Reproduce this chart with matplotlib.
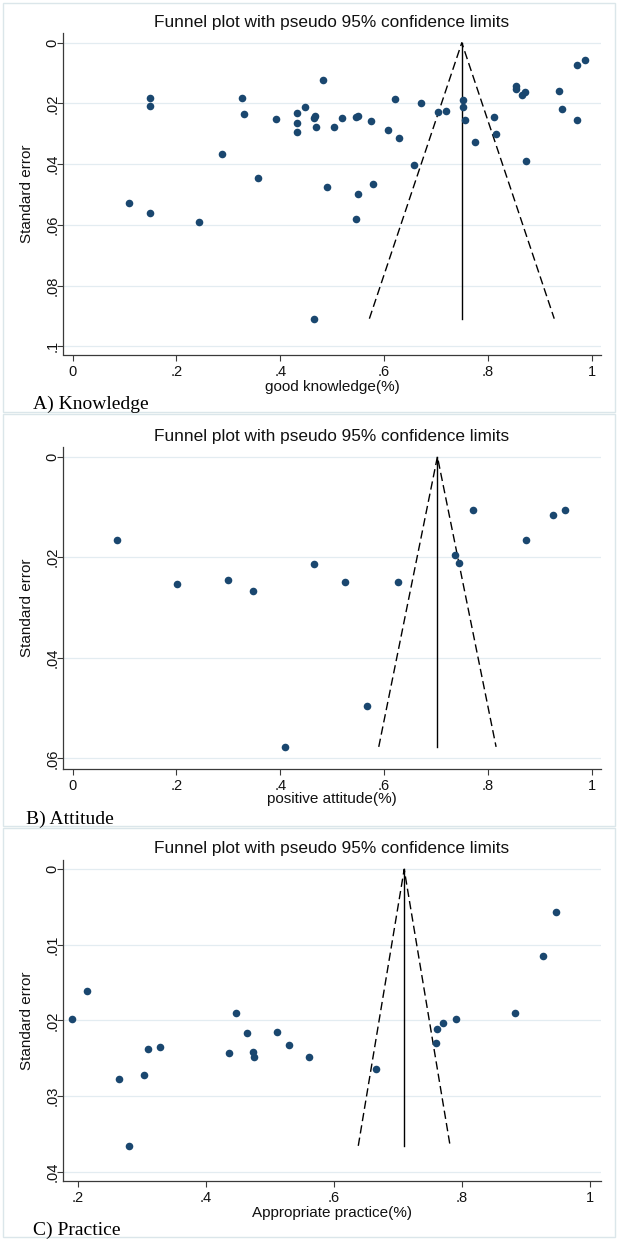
import matplotlib
matplotlib.use("Agg")
import matplotlib.pyplot as plt
from matplotlib.patches import Rectangle
from matplotlib.ticker import FuncFormatter

# ---------------- data ----------------
title_text = "Funnel plot with pseudo 95% confidence limits"
ylabel_text = "Standard error"

knowledge_x = [0.149, 0.149, 0.109, 0.149, 0.244, 0.287, 0.326, 0.331, 0.358, 0.392,
               0.433, 0.433, 0.432, 0.447, 0.467, 0.466, 0.468, 0.483, 0.490, 0.466,
               0.503, 0.520, 0.546, 0.550, 0.550, 0.546, 0.575, 0.579, 0.608, 0.629,
               0.621, 0.658, 0.672, 0.704, 0.720, 0.753, 0.753, 0.756, 0.775, 0.813,
               0.815, 0.855, 0.855, 0.866, 0.871, 0.874, 0.937, 0.943, 0.973, 0.972,
               0.987]
knowledge_se = [0.0183, 0.0210, 0.0527, 0.0562, 0.0591, 0.0368, 0.0183, 0.0235, 0.0447, 0.0250,
                0.0230, 0.0266, 0.0293, 0.0213, 0.0241, 0.0249, 0.0279, 0.0124, 0.0475, 0.0909,
                0.0276, 0.0248, 0.0246, 0.0242, 0.0497, 0.0582, 0.0257, 0.0464, 0.0289, 0.0315,
                0.0186, 0.0402, 0.0200, 0.0228, 0.0224, 0.0190, 0.0212, 0.0255, 0.0328, 0.0244,
                0.0302, 0.0142, 0.0152, 0.0171, 0.0161, 0.0389, 0.0159, 0.0219, 0.0255, 0.0072,
                0.0057]
knowledge_pooled = 0.750

attitude_x = [0.0845, 0.201, 0.299, 0.348, 0.466, 0.410, 0.524, 0.568, 0.6275, 0.737,
              0.745, 0.7725, 0.874, 0.925, 0.949]
attitude_se = [0.0165, 0.0253, 0.0246, 0.0268, 0.0214, 0.0577, 0.0249, 0.0496, 0.0250, 0.0195,
               0.0212, 0.0105, 0.0165, 0.0116, 0.0106]
attitude_pooled = 0.703

practice_x = [0.191, 0.214, 0.264, 0.303, 0.309, 0.328, 0.280, 0.4475, 0.465, 0.436,
              0.473, 0.476, 0.511, 0.530, 0.561, 0.666, 0.759, 0.761, 0.770, 0.791,
              0.8825, 0.927, 0.9465]
practice_se = [0.0198, 0.0161, 0.0277, 0.0272, 0.0238, 0.0235, 0.0366, 0.0190, 0.0217, 0.0243,
               0.0242, 0.0248, 0.0216, 0.0232, 0.0249, 0.0264, 0.0230, 0.0212, 0.0204, 0.0198,
               0.0190, 0.0115, 0.0056]
practice_pooled = 0.710

knowledge_xticks = [0, 0.2, 0.4, 0.6, 0.8, 1]
knowledge_yticks = [0, 0.02, 0.04, 0.06, 0.08, 0.1]
attitude_xticks = [0, 0.2, 0.4, 0.6, 0.8, 1]
attitude_yticks = [0, 0.02, 0.04, 0.06]
practice_xticks = [0.2, 0.4, 0.6, 0.8, 1]
practice_yticks = [0, 0.01, 0.02, 0.03, 0.04]

xlabels = ["good knowledge(%)", "positive attitude(%)", "Appropriate practice(%)"]
captions = ["A) Knowledge", "B) Attitude", "C) Practice"]

# ---------------- style ----------------
W, H = 618, 1239
NAVY = "#1a476f"
GRID = "#e3ecf1"
AXC = "#3a3a3a"
FRAME = "#dbe6ea"
SANS = ["Liberation Sans", "DejaVu Sans"]
SERIF = ["Liberation Serif", "DejaVu Serif"]
plt.rcParams["lines.scale_dashes"] = False

fig = plt.figure(figsize=(W / 100, H / 100), dpi=100)
fig.patch.set_facecolor("white")


def fy(py):
    return 1 - py / H


def fx(px):
    return px / W


def stata_fmt(v, pos=None):
    v = round(v, 6)
    if v == 0:
        return "0"
    s = f"{v:g}"
    if s.startswith("0."):
        s = s[1:]
    return s


panels = [
    dict(x=knowledge_x, se=knowledge_se, pooled=knowledge_pooled,
         xt=knowledge_xticks, yt=knowledge_yticks,
         box=(63, 33.3, 601, 354.5), xlim=(-0.0187, 1.0183), ylim=(0.1027, -0.0031),
         title_y=22.7, xlabel_y=387.5, cap=(33, 404), frame=(3, 3, 615, 411.5)),
    dict(x=attitude_x, se=attitude_se, pooled=attitude_pooled,
         xt=attitude_xticks, yt=attitude_yticks,
         box=(63, 447.3, 601, 769), xlim=(-0.0187, 1.0183), ylim=(0.0621, -0.00187),
         title_y=436, xlabel_y=799, cap=(26, 819), frame=(3, 413.5, 615, 825.5)),
    dict(x=practice_x, se=practice_se, pooled=practice_pooled,
         xt=practice_xticks, yt=practice_yticks,
         box=(63, 860, 601, 1180.5), xlim=(0.1769, 1.0175), ylim=(0.04119, -0.00123),
         title_y=849, xlabel_y=1212.5, cap=(33, 1230), frame=(3, 828, 615, 1237)),
]

for i, p in enumerate(panels):
    # light outer frame of each sub-graph
    l, t, r, b = p["frame"]
    fig.patches.append(Rectangle((fx(l), fy(b)), fx(r) - fx(l), fy(t) - fy(b),
                                 transform=fig.transFigure, fill=False,
                                 edgecolor=FRAME, linewidth=1.0, zorder=0))
    l, t, r, b = p["box"]
    ax = fig.add_axes([fx(l), fy(b), fx(r) - fx(l), fy(t) - fy(b)])
    ax.set_xlim(*p["xlim"])
    ax.set_ylim(*p["ylim"])
    ax.set_facecolor("white")

    for yv in p["yt"]:
        ax.axhline(yv, color=GRID, linewidth=0.9, zorder=0)

    se_max = max(p["se"])
    th = p["pooled"]
    half = 1.96 * se_max
    ax.plot([th, th], [0, se_max], color="black", linewidth=1.0, zorder=2)
    ax.plot([th - half, th, th + half], [se_max, 0, se_max], color="black",
            linewidth=1.0, dashes=(6.0, 3.0), zorder=2)
    ax.scatter(p["x"], p["se"], s=30, color=NAVY, linewidths=0, zorder=3)

    ax.set_xticks(p["xt"])
    ax.set_yticks(p["yt"])
    ax.xaxis.set_major_formatter(FuncFormatter(stata_fmt))
    ax.yaxis.set_major_formatter(FuncFormatter(stata_fmt))
    for s in ["top", "right"]:
        ax.spines[s].set_visible(False)
    for s in ["left", "bottom"]:
        ax.spines[s].set_color(AXC)
        ax.spines[s].set_linewidth(0.9)
    ax.tick_params(axis="both", direction="out", length=4.3, width=0.8,
                   color=AXC, labelsize=10.5, labelcolor="#111111")
    ax.tick_params(axis="x", pad=3.0)
    ax.tick_params(axis="y", pad=3.0)
    for lab in ax.get_xticklabels() + ax.get_yticklabels():
        lab.set_fontfamily(SANS)
    for lab in ax.get_yticklabels():
        lab.set_rotation(90)
        lab.set_va("center")
        lab.set_ha("center")
        lab.set_rotation_mode("default")

    cx = (l + r) / 2
    fig.text(fx(cx), fy(p["title_y"]), title_text, ha="center", va="center",
             fontsize=12.4, family=SANS, color="#111111")
    fig.text(fx(cx), fy(p["xlabel_y"]), xlabels[i], ha="center", va="center",
             fontsize=11.0, family=SANS, color="#111111")
    fig.text(fx(27), fy((t + b) / 2), ylabel_text, ha="center", va="center",
             rotation=90, fontsize=11.0, family=SANS, color="#111111")
    fig.text(fx(p["cap"][0]), fy(p["cap"][1]), captions[i], ha="left", va="center",
             fontsize=14, family=SERIF, color="black")

fig.savefig("out.png", dpi=100, facecolor="white")
